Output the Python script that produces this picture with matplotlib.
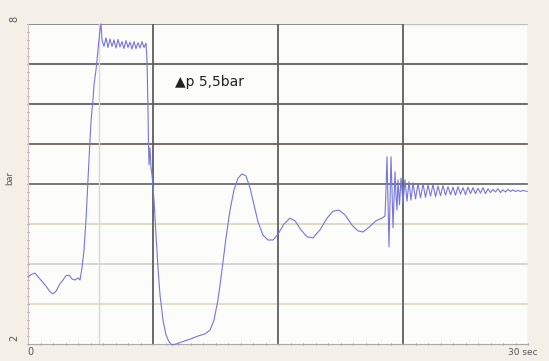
"""Pressure trace (bar over 30 sec) with the p 5,5bar marker."""

from __future__ import annotations

import matplotlib

matplotlib.use("Agg")
import matplotlib.pyplot as plt

# time (sec) and pressure (bar)
TIME_SEC = [
    0.00, 0.24, 0.42, 0.66, 1.02, 1.32, 1.50, 1.68, 1.92, 2.10, 2.28, 2.46,
    2.64, 2.82, 3.00, 3.12, 3.24, 3.36, 3.48, 3.60, 3.66, 3.72, 3.78, 3.84,
    3.90, 3.96, 4.08, 4.20, 4.32, 4.38,
    4.44, 4.56, 4.68, 4.80, 4.92, 5.04, 5.16, 5.28, 5.40, 5.52, 5.64, 5.76,
    5.88, 6.00, 6.12, 6.24, 6.36, 6.48, 6.60, 6.72, 6.84, 6.96, 7.08,
    7.14, 7.20, 7.23, 7.26, 7.32, 7.38, 7.44, 7.56, 7.68, 7.80, 7.92, 8.10,
    8.28, 8.46, 8.64, 8.88, 9.24, 9.72, 10.20, 10.62, 10.92, 11.16, 11.40,
    11.64, 11.88, 12.12, 12.36, 12.60, 12.84, 13.08, 13.32, 13.56, 13.80,
    14.10, 14.40, 14.70, 15.00, 15.36, 15.72, 16.02, 16.38, 16.74, 17.10,
    17.52, 17.94, 18.30, 18.66, 19.02, 19.44, 19.80, 20.10, 20.46, 20.88,
    21.24, 21.42,
    21.48, 21.54, 21.60, 21.66, 21.72, 21.78, 21.84, 21.90, 21.96, 22.02,
    22.08, 22.14, 22.20, 22.29, 22.38, 22.50, 22.62, 22.74, 22.86, 22.98,
    23.10, 23.25, 23.40, 23.55, 23.70, 23.85, 24.00, 24.15, 24.30, 24.45,
    24.60, 24.75, 24.90, 25.05, 25.20, 25.35, 25.50, 25.65, 25.80, 25.95,
    26.10, 26.25, 26.40, 26.55, 26.70, 26.85, 27.00, 27.15, 27.30, 27.45,
    27.60, 27.75, 27.90, 28.05, 28.20, 28.35, 28.50, 28.65, 28.80, 28.95,
    29.10, 29.25, 29.40, 29.55, 29.70, 29.95,
]
PRESSURE_BAR = [
    3.26, 3.31, 3.33, 3.24, 3.11, 2.98, 2.94, 2.99, 3.13, 3.20, 3.28, 3.29,
    3.22, 3.20, 3.24, 3.20, 3.43, 3.76, 4.33, 5.08, 5.45, 5.83, 6.16, 6.39,
    6.58, 6.86, 7.14, 7.51, 7.89, 8.00,
    7.70, 7.58, 7.74, 7.56, 7.72, 7.58, 7.70, 7.55, 7.71, 7.57, 7.67, 7.54,
    7.69, 7.56, 7.66, 7.53, 7.67, 7.54, 7.65, 7.55, 7.67, 7.56, 7.64,
    7.33, 6.39, 5.73, 5.36, 5.68, 5.30, 5.17, 4.70, 4.04, 3.43, 2.92, 2.45,
    2.17, 2.04, 1.98, 2.00, 2.04, 2.09, 2.15, 2.19, 2.26, 2.45, 2.83,
    3.39, 3.99, 4.51, 4.89, 5.11, 5.19, 5.15, 4.93, 4.61, 4.29,
    4.04, 3.95, 3.95, 4.06, 4.25, 4.36, 4.31, 4.14, 4.01, 3.99,
    4.14, 4.36, 4.49, 4.51, 4.42, 4.23, 4.12, 4.10, 4.19, 4.31,
    4.36, 4.40,
    4.89, 5.51, 4.70, 3.82, 4.70, 5.51, 4.89, 4.18, 4.70, 5.23,
    4.79, 4.51, 5.08, 4.61, 5.11, 4.64, 5.08, 4.68, 5.04, 4.70,
    5.02, 4.72, 5.01, 4.74, 5.00, 4.75, 4.98, 4.77, 4.99, 4.76,
    4.96, 4.78, 4.97, 4.79, 4.95, 4.80, 4.94, 4.79, 4.95, 4.81,
    4.93, 4.80, 4.94, 4.82, 4.93, 4.82, 4.92, 4.83, 4.93, 4.82,
    4.91, 4.84, 4.90, 4.85, 4.91, 4.84, 4.89, 4.85, 4.90, 4.86,
    4.89, 4.86, 4.88, 4.86, 4.88, 4.86,
]

X_MAX = 30
Y_MIN, Y_MAX = 2, 8
# horizontal grid levels (bar) and their colours, top to bottom
H_GRID = [7.25, 6.5, 5.75, 5.0, 4.25, 3.5, 2.75]
H_GRID_COLORS = ["#626262", "#626262", "#75605a", "#6c6c6c", "#dcd9c0", "#d4d4d4", "#dfdbc2"]
# vertical grid positions (sec)
V_DARK = [7.5, 15, 22.5]
V_LIGHT = [4.26, 30]

LINE_COLOR = "#7676d8"


def draw_grid(ax) -> None:
    """Grid lines like the recorder printout."""

    ax.axhline(Y_MAX, xmin=0, xmax=0.75, color="#7a7a7a", lw=1.2, zorder=1)
    ax.axhline(Y_MAX, xmin=0.75, xmax=1, color="#c0c0c0", lw=1.0, zorder=1)
    for level, color in zip(H_GRID, H_GRID_COLORS):
        ax.axhline(level, color=color, lw=1.3, zorder=1)
    for pos in V_DARK:
        ax.axvline(pos, color="#5e5e5e", lw=1.3, zorder=1)
    for pos in V_LIGHT:
        ax.axvline(pos, color="#d8d8d8", lw=1.0, zorder=1)


def main() -> None:
    fig = plt.figure(figsize=(5.49, 3.61), dpi=100, facecolor="#f4efe7")
    ax = fig.add_axes([28 / 549, 17 / 361, 500 / 549, 320 / 361])
    ax.set_facecolor("#fcfcfa")

    draw_grid(ax)
    ax.plot(TIME_SEC, PRESSURE_BAR, color=LINE_COLOR, lw=0.8, zorder=3, clip_on=False)

    ax.set_xlim(0, X_MAX)
    ax.set_ylim(Y_MIN, Y_MAX)

    for side in ["top", "right"]:
        ax.spines[side].set_visible(False)
    ax.spines["left"].set_color("#cfc0c0")
    ax.spines["bottom"].set_color("#a8a8a8")
    ax.set_xticks([x * 0.75 for x in range(41)])
    ax.set_yticks([Y_MIN + y * 0.15 for y in range(41)])
    ax.tick_params(direction="inout", length=2, width=0.7, color="#8a8a8a",
                   labelleft=False, labelbottom=False)

    ax.text(-0.027, 1.015, "8", transform=ax.transAxes, rotation=90, fontsize=7,
            color="#555555", ha="center", va="center")
    ax.text(-0.027, 0.02, "2", transform=ax.transAxes, rotation=90, fontsize=7,
            color="#555555", ha="center", va="center")
    ax.text(-0.036, 0.52, "bar", transform=ax.transAxes, rotation=90, fontsize=6,
            color="#555555", ha="center", va="center")
    ax.text(0.004, -0.008, "0", transform=ax.transAxes, fontsize=7,
            color="#555555", ha="center", va="top")
    ax.text(0.99, -0.012, "30 sec", transform=ax.transAxes, fontsize=6.5,
            color="#555555", ha="center", va="top")

    ax.text(8.8, 6.91, "\u25b2p 5,5bar", fontsize=10, color="#222222",
            ha="left", va="center", zorder=4)

    fig.savefig("out.png", dpi=100, facecolor=fig.get_facecolor())


if __name__ == "__main__":
    main()
